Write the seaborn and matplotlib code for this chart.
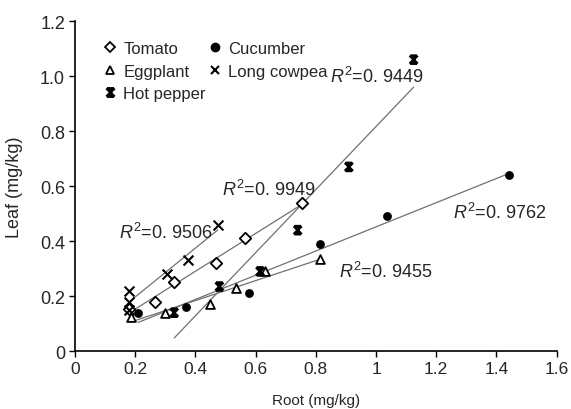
import numpy as np
import seaborn as sns
import matplotlib.pyplot as plt
from matplotlib.path import Path
from matplotlib.lines import Line2D

# values
tomato_x = [0.18, 0.265, 0.33, 0.47, 0.565, 0.755]
tomato_y = [0.155, 0.18, 0.25, 0.32, 0.41, 0.54]
cucumber_x = [0.21, 0.37, 0.58, 0.815, 1.035, 1.44]
cucumber_y = [0.14, 0.16, 0.21, 0.39, 0.49, 0.64]
eggplant_x = [0.185, 0.30, 0.45, 0.535, 0.63, 0.815]
eggplant_y = [0.125, 0.14, 0.17, 0.23, 0.29, 0.335]
cowpea_x = [0.18, 0.18, 0.18, 0.305, 0.375, 0.475]
cowpea_y = [0.22, 0.18, 0.15, 0.28, 0.33, 0.46]
pepper_x = [0.33, 0.48, 0.615, 0.74, 0.91, 1.125]
pepper_y = [0.14, 0.235, 0.29, 0.44, 0.67, 1.06]

r2_labels = ["0. 9506", "0. 9949", "0. 9449", "0. 9762", "0. 9455"]
r2_pos = [(0.146, 0.433), (0.488, 0.589), (0.848, 1.001), (1.254, 0.505), (0.876, 0.292)]

xticks = [0, 0.2, 0.4, 0.6, 0.8, 1.0, 1.2, 1.4, 1.6]
xticklabels = ["0", "0.2", "0.4", "0.6", "0.8", "1", "1.2", "1.4", "1.6"]
yticks = [0, 0.2, 0.4, 0.6, 0.8, 1.0, 1.2]
yticklabels = ["0", "0.2", "0.4", "0.6", "0.8", "1.0", "1.2"]

sns.set_style("ticks")
plt.rcParams["font.family"] = ["Liberation Sans", "DejaVu Sans"]
plt.rcParams["mathtext.fontset"] = "custom"
plt.rcParams["mathtext.it"] = "Liberation Sans:italic"
plt.rcParams["mathtext.rm"] = "Liberation Sans"

# hot pepper marker: X with bars on top and bottom
pepper_marker = Path(
    [(-1, -1), (1, 1), (-1, 1), (1, -1), (-0.8, 1), (0.8, 1), (-0.8, -1), (0.8, -1), (0, -0.9), (0, 0.9)],
    [Path.MOVETO, Path.LINETO] * 5,
)

fig = plt.figure(figsize=(5.71, 4.10), dpi=100)
ax = fig.add_axes([0.131, 0.141, 0.844, 0.805])

line_kw = dict(color="#707070", lw=0.9)
for xs, ys in [(tomato_x, tomato_y), (cucumber_x, cucumber_y), (eggplant_x, eggplant_y),
               (cowpea_x, cowpea_y), (pepper_x, pepper_y)]:
    sns.regplot(x=np.array(xs), y=np.array(ys), ax=ax, scatter=False, ci=None,
                truncate=True, line_kws=line_kw)

mk = dict(s=34, zorder=5)
sns.scatterplot(x=tomato_x, y=tomato_y, ax=ax, marker="D", facecolor="white",
                edgecolor="black", linewidth=1.3, **mk)
sns.scatterplot(x=cucumber_x, y=cucumber_y, ax=ax, marker="o", color="black",
                edgecolor="black", **mk)
sns.scatterplot(x=eggplant_x, y=eggplant_y, ax=ax, marker="^", facecolor="white",
                edgecolor="black", linewidth=1.3, s=40, zorder=5)
sns.scatterplot(x=cowpea_x, y=cowpea_y, ax=ax, marker="x", color="black",
                linewidth=1.5, s=50, zorder=5)
sns.scatterplot(x=pepper_x, y=pepper_y, ax=ax, marker=pepper_marker, facecolor="none",
                edgecolor="black", linewidth=1.8, s=34, zorder=5)

for lab, (tx, ty) in zip(r2_labels, r2_pos):
    ax.text(tx, ty, r"$R^{2}$=" + lab, fontsize=13, va="center", ha="left")

ax.set_xlim(0, 1.6)
ax.set_ylim(0, 1.2)
ax.set_xticks(xticks)
ax.set_xticklabels(xticklabels, fontsize=12.5)
ax.set_yticks(yticks)
ax.set_yticklabels(yticklabels, fontsize=13)
ax.tick_params(direction="out", length=4, width=1, color="black", pad=3)
ax.set_xlabel("Root (mg/kg)", fontsize=11, labelpad=12)
ax.set_ylabel("Leaf (mg/kg)", fontsize=13, labelpad=12)
for side in ["left", "bottom"]:
    ax.spines[side].set_color("black")
    ax.spines[side].set_linewidth(1.2)
sns.despine(ax=ax)

handles = [
    Line2D([], [], ls="none", marker="D", mfc="white", mec="black", mew=1.3, ms=5),
    Line2D([], [], ls="none", marker="^", mfc="white", mec="black", mew=1.3, ms=6),
    Line2D([], [], ls="none", marker=pepper_marker, mfc="none", mec="black", mew=1.8, ms=6),
    Line2D([], [], ls="none", marker="o", color="black", ms=6),
    Line2D([], [], ls="none", marker="x", color="black", mew=1.5, ms=6),
]
labels = ["Tomato", "Eggplant", "Hot pepper", "Cucumber", "Long cowpea"]
ax.legend(handles, labels, ncol=2, loc="upper left", bbox_to_anchor=(0.035, 0.975),
          frameon=False, fontsize=12, handlelength=0.8, handletextpad=0.4,
          columnspacing=0.15, labelspacing=0.45, borderaxespad=0.3)

fig.savefig("out.png", dpi=100)
